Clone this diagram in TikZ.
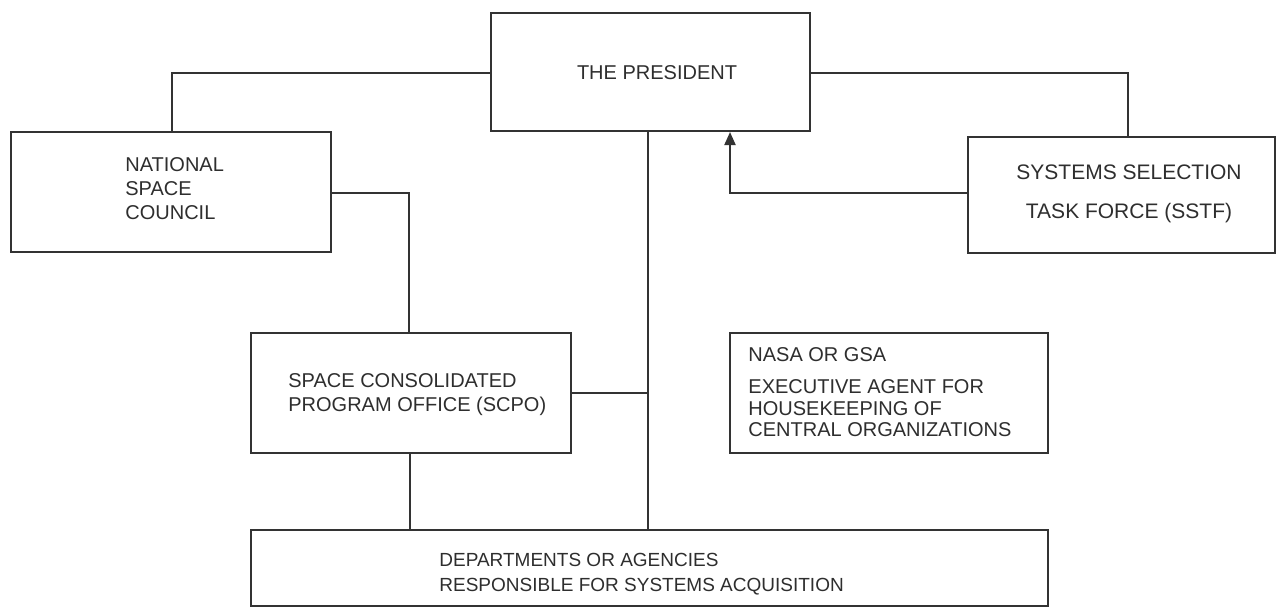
\documentclass[tikz,border=0pt]{standalone}
\usepackage{fontspec}
\setmainfont{Liberation Sans}
\usetikzlibrary{arrows.meta,calc}
\definecolor{ink}{HTML}{333333}
\definecolor{txt}{HTML}{2E2E2E}
\tikzset{
  box/.style={draw=ink, line width=1pt, rectangle, inner sep=0pt, fill=none},
  lbl/.style={text=txt, font=\fontsize{10pt}{12pt}\selectfont, inner sep=0pt, align=left},
  conn/.style={draw=ink, line width=1pt},
  tip/.style={-{Triangle[length=6.5pt,width=5.5pt]}}
}
\begin{document}
\begin{tikzpicture}[x=0.5pt,y=-0.5pt]
\useasboundingbox[fill=white] (0,0) rectangle (1278,607);
% boxes
\node[box, minimum width=159.5pt, minimum height=59pt] (pres) at (650.5,72) {};
\node[box, minimum width=160pt, minimum height=60pt] (nsc) at (171,192) {};
\node[box, minimum width=153.5pt, minimum height=58pt] (sstf) at (1121.5,195) {};
\node[box, minimum width=160pt, minimum height=60pt] (scpo) at (411,393) {};
\node[box, minimum width=159pt, minimum height=60pt] (nasa) at (889,393) {};
\node[box, minimum width=398.5pt, minimum height=38pt] (dept) at (649.5,568) {};
% texts
\node[lbl, anchor=center] (ptext) at (657,73) {THE PRESIDENT};
\node[lbl, anchor=west] (ntext) at (125,189) {NATIONAL\\SPACE\\COUNCIL};
\node[lbl, anchor=center, align=center, font=\fontsize{10.5pt}{19.5pt}\selectfont] (stext) at (1129,193.5) {SYSTEMS SELECTION\\TASK FORCE (SSTF)};
\node[lbl, anchor=west] (ctext) at (288,395) {SPACE CONSOLIDATED\\PROGRAM OFFICE (SCPO)};
\node[lbl, anchor=west] (atext1) at (748,355) {NASA OR GSA};
\node[lbl, anchor=west, font=\fontsize{10pt}{10.75pt}\selectfont] (atext2) at (748,408.5) {EXECUTIVE AGENT FOR\\HOUSEKEEPING OF\\CENTRAL ORGANIZATIONS};
\node[lbl, anchor=west, font=\fontsize{9.5pt}{12.5pt}\selectfont] (dtext) at (439,574.5) {DEPARTMENTS OR AGENCIES\\RESPONSIBLE FOR SYSTEMS ACQUISITION};
% connectors
\draw[conn] ([yshift=-0.5pt]pres.west) -| ([xshift=0.5pt]nsc.north);
\draw[conn] ([yshift=-0.5pt]pres.east) -| ([xshift=3.25pt]sstf.north);
\draw[conn] ([yshift=-0.5pt]nsc.east) -| ([xshift=-1pt]scpo.north);
\draw[conn, tip] ([yshift=1pt]sstf.west) -| ([xshift=39.75pt]pres.south);
\coordinate (vtop) at ([xshift=-1.25pt]pres.south);
\draw[conn] (vtop) -- (vtop |- dept.north);
\draw[conn] (scpo.east) -- (scpo.east -| vtop);
\draw[conn] ([xshift=-0.5pt]scpo.south) -- ([xshift=-0.5pt]scpo.south |- dept.north);
\end{tikzpicture}
\end{document}
